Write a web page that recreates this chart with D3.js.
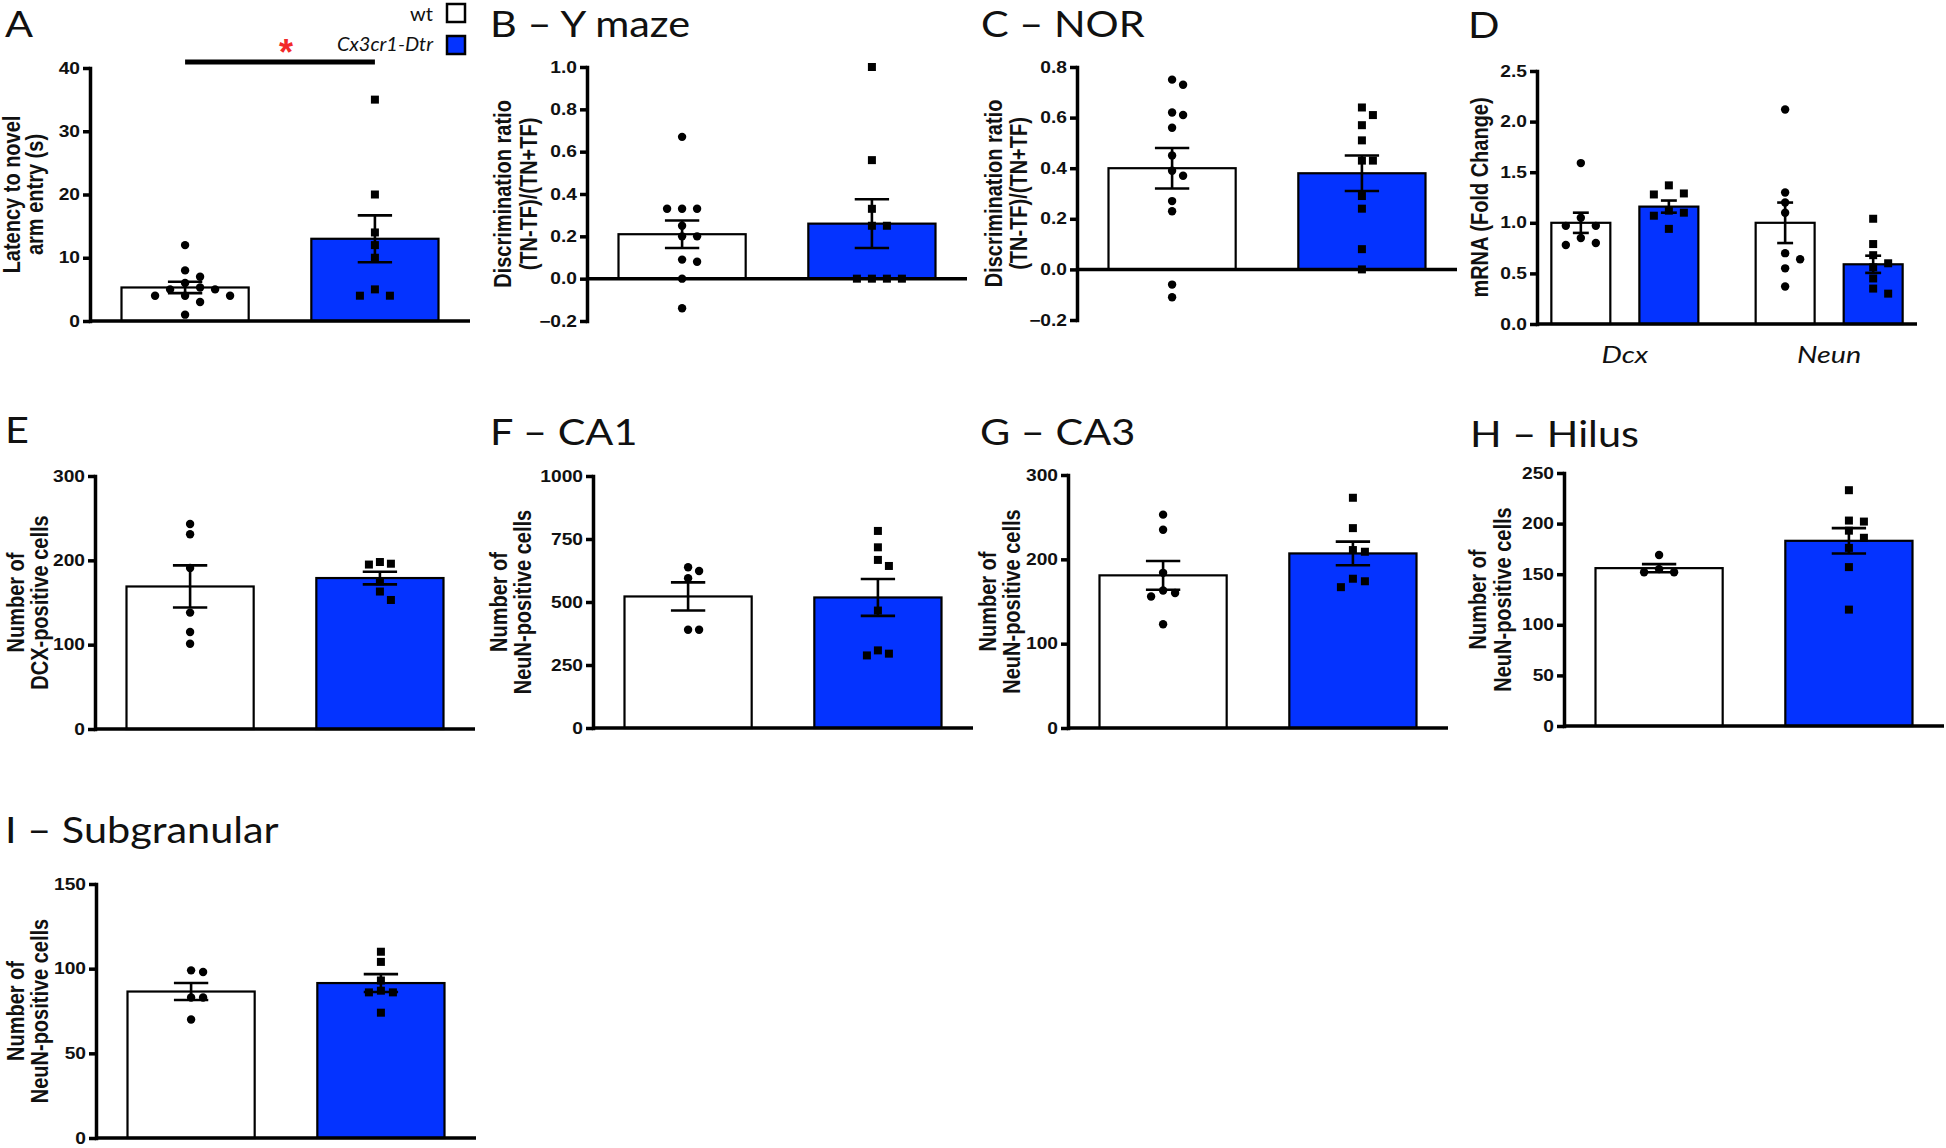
<!DOCTYPE html>
<html>
<head>
<meta charset="utf-8">
<script src="https://cdn.jsdelivr.net/npm/d3@7"></script>
<style>
    body { margin: 0; background: #fff; }
    svg { display: block; }
    .title { font-family: Lato, "Open Sans", sans-serif; font-size: 37px; fill: #111; }
    .ylab { font-family: "Liberation Sans", Arial, sans-serif; font-size: 20px; font-weight: bold; fill: #111; }
    .cat { font-family: Lato, "Open Sans", sans-serif; font-size: 24px; font-style: italic; fill: #111; }
    .legend { font-family: Lato, "Open Sans", sans-serif; font-size: 20px; fill: #111; }
</style>
</head>
<body>
<div id="figure"></div>
<script>
"use strict";

/***** data *****/

const groups = ["wt", "Cx3cr1-Dtr"];

// A - latency to novel arm entry (s)
const latencyWt = [12, 8, 7, 6, 5.3, 5, 5, 4, 4, 4, 3, 1],
    latencyCx = [35, 20, 14, 12, 10, 5, 4, 4],
    latencyMean = [5.3, 13.0],
    latencySem = [0.9, 3.7],
    latencyTicks = [0, 10, 20, 30, 40];

// B - Y maze discrimination ratio
const ymazeWt = [0.67, 0.33, 0.33, 0.33, 0.25, 0.2, 0.2, 0.09, 0.08, 0, -0.14],
    ymazeCx = [1.0, 0.56, 0.33, 0.25, 0.25, 0, 0, 0, 0],
    ymazeMean = [0.21, 0.26],
    ymazeSem = [0.065, 0.115],
    ymazeTicks = [-0.2, 0, 0.2, 0.4, 0.6, 0.8, 1.0];

// C - NOR discrimination ratio
const norWt = [0.75, 0.73, 0.62, 0.61, 0.56, 0.45, 0.39, 0.37, 0.27, 0.23, -0.06, -0.11],
    norCx = [0.64, 0.61, 0.57, 0.51, 0.43, 0.43, 0.29, 0.24, 0.08, 0],
    norMean = [0.40, 0.38],
    norSem = [0.08, 0.07],
    norTicks = [-0.2, 0, 0.2, 0.4, 0.6, 0.8];

// D - mRNA fold change, per gene
const genes = ["Dcx", "Neun"],
    mrnaWt = [[1.59, 1.05, 0.97, 0.97, 0.85, 0.8, 0.78], [2.12, 1.3, 1.2, 1.1, 0.7, 0.64, 0.55, 0.37]],
    mrnaCx = [[1.37, 1.29, 1.28, 1.12, 1.1, 1.07, 0.94], [1.04, 0.79, 0.68, 0.6, 0.56, 0.45, 0.35, 0.3]],
    mrnaMean = [[1.0, 1.16], [1.0, 0.59]],
    mrnaSem = [[0.1, 0.06], [0.2, 0.085]],
    mrnaTicks = [0, 0.5, 1.0, 1.5, 2.0, 2.5];

// E - DCX-positive cells
const dcxWt = [243, 231, 191, 138, 115, 101],
    dcxCx = [198, 196, 195, 175, 163, 153],
    dcxMean = [169, 179],
    dcxSem = [25, 7.5],
    dcxTicks = [0, 100, 200, 300];

// F - CA1 NeuN-positive cells
const ca1Wt = [638, 623, 594, 390, 390],
    ca1Cx = [782, 717, 667, 643, 466, 308, 295, 288],
    ca1Mean = [522, 518],
    ca1Sem = [56, 73],
    ca1Ticks = [0, 250, 500, 750, 1000];

// G - CA3 NeuN-positive cells
const ca3Wt = [253, 235, 184, 163, 160, 156, 123],
    ca3Cx = [273, 237, 211, 209, 177, 174, 167],
    ca3Mean = [181, 207],
    ca3Sem = [17, 14],
    ca3Ticks = [0, 100, 200, 300];

// H - hilus NeuN-positive cells
const hilusWt = [169, 155, 152, 152],
    hilusCx = [233, 203, 202, 193, 186, 176, 157, 115],
    hilusMean = [156, 183],
    hilusSem = [4, 12.5],
    hilusTicks = [0, 50, 100, 150, 200, 250];

// I - subgranular NeuN-positive cells
const sgzWt = [99, 98, 83, 83, 70],
    sgzCx = [110, 104, 93, 87, 86, 86, 74],
    sgzMean = [86.5, 91.5],
    sgzSem = [5, 5.3],
    sgzTicks = [0, 50, 100, 150];


/***** layout *****/

const W = 1946, H = 1148,
    blue = "#0433ff",
    stretch = 1.2,
    titleStretch = 1.12,
    axisW = 3.5;

const fmtInt = d3.format("d"),
    fmt1 = d3.format(".1f");

const neunLabel = ["Number of", "NeuN-positive cells"],
    ratioLabel = ["Discrimination ratio", "(TN-TF)/(TN+TF)"];

const panels = [
    { title: "A", tx: 5, ty: 37, ax: 90, top: 68, bottom: 321, ticks: latencyTicks, fmt: fmtInt,
      label: ["Latency to novel", "arm entry (s)"], labelX: [-78, -55], spread: 15,
      cats: [""], points: [[latencyWt, latencyCx]], means: [latencyMean], sems: [latencySem] },
    { title: "B \u2013 Y maze", tx: 490, ty: 37, ax: 587, top: 67, bottom: 321, ticks: ymazeTicks, fmt: fmt1,
      label: ratioLabel, labelX: [-84, -58], spread: 15,
      cats: [""], points: [[ymazeWt, ymazeCx]], means: [ymazeMean], sems: [ymazeSem] },
    { title: "C \u2013 NOR", tx: 981, ty: 37, ax: 1077, top: 67, bottom: 320, ticks: norTicks, fmt: fmt1,
      label: ratioLabel, labelX: [-83, -58], spread: 11,
      cats: [""], points: [[norWt, norCx]], means: [norMean], sems: [norSem] },
    { title: "D", tx: 1468, ty: 38, ax: 1537, top: 71, bottom: 324, ticks: mrnaTicks, fmt: fmt1,
      label: ["mRNA (Fold Change)"], labelX: [-57], spread: 15, half: 73.5,
      cats: genes, points: genes.map((g, i) => [mrnaWt[i], mrnaCx[i]]), means: mrnaMean, sems: mrnaSem },
    { title: "E", tx: 5, ty: 443, ax: 95, top: 476, bottom: 729, ticks: dcxTicks, fmt: fmtInt,
      label: ["Number of", "DCX-positive cells"], labelX: [-79, -55], spread: 11,
      cats: [""], points: [[dcxWt, dcxCx]], means: [dcxMean], sems: [dcxSem] },
    { title: "F \u2013 CA1", tx: 490, ty: 445, ax: 593, top: 476, bottom: 728, ticks: ca1Ticks, fmt: fmtInt,
      label: neunLabel, labelX: [-94, -70], spread: 11,
      cats: [""], points: [[ca1Wt, ca1Cx]], means: [ca1Mean], sems: [ca1Sem] },
    { title: "G \u2013 CA3", tx: 980, ty: 445, ax: 1068, top: 475, bottom: 728, ticks: ca3Ticks, fmt: fmtInt,
      label: neunLabel, labelX: [-80, -56], spread: 12,
      cats: [""], points: [[ca3Wt, ca3Cx]], means: [ca3Mean], sems: [ca3Sem] },
    { title: "H \u2013 Hilus", tx: 1470, ty: 447, ax: 1564, top: 473, bottom: 726, ticks: hilusTicks, fmt: fmtInt,
      label: neunLabel, labelX: [-86, -61], spread: 15,
      cats: [""], points: [[hilusWt, hilusCx]], means: [hilusMean], sems: [hilusSem] },
    { title: "I \u2013 Subgranular", tx: 5, ty: 843, ax: 96, top: 884, bottom: 1138, ticks: sgzTicks, fmt: fmtInt,
      label: neunLabel, labelX: [-80, -56], spread: 12,
      cats: [""], points: [[sgzWt, sgzCx]], means: [sgzMean], sems: [sgzSem] }
];


/***** plot *****/

const svg = d3.select("#figure")
    .append("svg")
    .attr("width", W)
    .attr("height", H)
    .style("background", "#fff");

// simple beeswarm: keep each point on its value, push sideways until it stops overlapping
function swarm(vals, y, cx, step) {
    let placed = [];
    vals.slice().sort((a, b) => b - a).forEach(v => {
        let py = y(v);
        for (let k = 0; k < 30; k++) {
            let off = k === 0 ? 0 : Math.ceil(k / 2) * (k % 2 ? 1 : -1) * step,
                px = cx + off;
            if (!placed.some(q => Math.hypot(q.x - px, q.y - py) < 10)) {
                placed.push({ x: px, y: py, v: v });
                break;
            }
        }
    });
    return placed;
}

function drawPanel(p) {
    const xEnd = p.ax + 380,
        half = p.half || 158.5;

    const y = d3.scaleLinear()
        .domain(d3.extent(p.ticks))
        .range([p.bottom, p.top]);

    const xCat = d3.scalePoint()
        .domain(p.cats)
        .range([p.ax, xEnd])
        .padding(0.43);

    const xGrp = d3.scaleBand()
        .domain(groups)
        .range([-half, half])
        .paddingInner(0.33);

    const bw = xGrp.bandwidth(),
        capW = bw * 0.27;

    let g = svg.append("g");

    g.append("text")
        .attr("class", "title")
        .attr("transform", `translate(${p.tx},${p.ty}) scale(${titleStretch},1)`)
        .text(p.title);

    let bars = p.cats.flatMap((c, ci) => groups.map((gr, gi) => ({
        cat: c, grp: gr, gi: gi,
        mean: p.means[ci][gi],
        sem: p.sems[ci][gi],
        vals: p.points[ci][gi]
    })));
    bars.forEach(d => d.cx = xCat(d.cat) + xGrp(d.grp) + bw / 2);

    g.selectAll("rect.bar")
        .data(bars)
        .enter()
        .append("rect")
        .attr("class", "bar")
        .attr("x", d => d.cx - bw / 2)
        .attr("width", bw)
        .attr("y", d => y(Math.max(0, d.mean)))
        .attr("height", d => Math.abs(y(0) - y(d.mean)))
        .attr("fill", d => d.gi ? blue : "#fff")
        .attr("stroke", "#000")
        .attr("stroke-width", 2.2);

    // individual animals
    bars.forEach(d => {
        let pts = swarm(d.vals, y, d.cx, p.spread);
        if (d.gi === 0) {
            g.selectAll(null)
                .data(pts)
                .enter()
                .append("circle")
                .attr("cx", q => q.x)
                .attr("cy", q => q.y)
                .attr("r", 4.2)
                .attr("fill", "#000");
        } else {
            g.selectAll(null)
                .data(pts)
                .enter()
                .append("rect")
                .attr("x", q => q.x - 4)
                .attr("y", q => q.y - 4)
                .attr("width", 8)
                .attr("height", 8)
                .attr("fill", "#000");
        }
    });

    // mean +- sem
    let err = g.selectAll("g.err")
        .data(bars)
        .enter()
        .append("g")
        .attr("class", "err")
        .attr("stroke", "#000")
        .attr("stroke-width", 2.6);

    err.append("line")
        .attr("x1", d => d.cx).attr("x2", d => d.cx)
        .attr("y1", d => y(d.mean - d.sem))
        .attr("y2", d => y(d.mean + d.sem));
    err.append("line")
        .attr("x1", d => d.cx - capW / 2).attr("x2", d => d.cx + capW / 2)
        .attr("y1", d => y(d.mean + d.sem)).attr("y2", d => y(d.mean + d.sem));
    err.append("line")
        .attr("x1", d => d.cx - capW / 2).attr("x2", d => d.cx + capW / 2)
        .attr("y1", d => y(d.mean - d.sem)).attr("y2", d => y(d.mean - d.sem));

    // axes
    let ag = g.append("g")
        .attr("transform", `translate(${p.ax},0)`)
        .call(d3.axisLeft(y)
            .tickValues(p.ticks)
            .tickFormat(p.fmt)
            .tickSize(7)
            .tickPadding(3)
            .tickSizeOuter(0))
        .attr("font-family", "'Liberation Sans', Arial, sans-serif")
        .attr("font-size", 16)
        .attr("font-weight", "bold");

    ag.select(".domain").attr("stroke-width", axisW).attr("stroke-linecap", "square");
    ag.selectAll(".tick line").attr("stroke-width", axisW);
    ag.selectAll(".tick text")
        .attr("fill", "#111")
        .each(function() {
            let x = +this.getAttribute("x");
            d3.select(this)
                .attr("x", 0)
                .attr("transform", `translate(${x},0) scale(${stretch},1)`);
        });

    g.append("line")
        .attr("x1", p.ax)
        .attr("x2", xEnd)
        .attr("y1", y(0))
        .attr("y2", y(0))
        .attr("stroke", "#000")
        .attr("stroke-width", axisW);

    // y title
    p.label.forEach((line, i) => {
        g.append("text")
            .attr("class", "ylab")
            .attr("transform", `translate(${p.ax + p.labelX[i]},${(p.top + p.bottom) / 2}) scale(${stretch},1) rotate(-90)`)
            .attr("text-anchor", "middle")
            .attr("dy", "0.35em")
            .text(line);
    });

    // category names (only the mRNA panel has them)
    p.cats.filter(c => c !== "").forEach(c => {
        g.append("text")
            .attr("class", "cat")
            .attr("transform", `translate(${xCat(c)},${p.bottom + 39}) scale(${stretch},1)`)
            .attr("text-anchor", "middle")
            .text(c);
    });

    return { y: y, bars: bars };
}

let drawn = panels.map(drawPanel);


/***** panel A extras: legend and significance *****/

let legend = svg.append("g");

groups.forEach((gr, i) => {
    legend.append("rect")
        .attr("x", 447)
        .attr("y", 4 + i * 32)
        .attr("width", 18)
        .attr("height", 18)
        .attr("fill", i ? blue : "#fff")
        .attr("stroke", "#000")
        .attr("stroke-width", 2.5);
    legend.append("text")
        .attr("class", "legend")
        .attr("x", 433)
        .attr("y", 21 + i * 30)
        .attr("text-anchor", "end")
        .style("font-style", i ? "italic" : "normal")
        .text(gr);
});

let aBars = drawn[0].bars,
    sigY = 62;

svg.append("line")
    .attr("x1", aBars[0].cx)
    .attr("x2", aBars[1].cx)
    .attr("y1", sigY)
    .attr("y2", sigY)
    .attr("stroke", "#000")
    .attr("stroke-width", 5);

svg.append("text")
    .attr("x", (aBars[0].cx + aBars[1].cx) / 2 + 6)
    .attr("y", sigY + 3)
    .attr("text-anchor", "middle")
    .attr("font-family", "'Liberation Sans', Arial, sans-serif")
    .attr("font-weight", "bold")
    .attr("font-size", 36)
    .attr("fill", "#f22a2a")
    .text("*");
</script>
</body>
</html>
